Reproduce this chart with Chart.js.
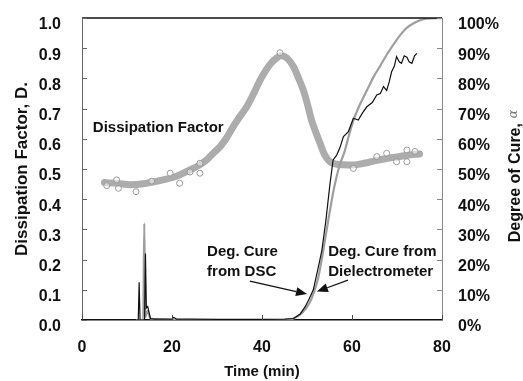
<!DOCTYPE html>
<html><head><meta charset="utf-8">
<style>html,body{margin:0;padding:0;background:#fff}</style>
<script src="https://cdn.jsdelivr.net/npm/chart.js@4/dist/chart.umd.min.js"></script>
</head><body>
<canvas id="c" width="523" height="381"></canvas>
<script>
const FONT = '"Liberation Sans", Arial, Helvetica, sans-serif';

// Dissipation factor (left axis)
const dfTime  = [5, 8, 10.7, 14, 18, 21, 24, 26, 27.7, 29, 30.7, 32, 33.6, 35, 36.6, 38, 39.6, 41, 42, 43.3, 44.2, 45.5, 47, 48, 49.2, 50, 51, 52, 52.9, 54, 55.1, 56.5, 58, 60.3, 63, 65, 67.7, 70, 72, 75];
const dfValue = [0.455, 0.452, 0.448, 0.452, 0.464, 0.476, 0.497, 0.512, 0.53, 0.55, 0.574, 0.6, 0.64, 0.672, 0.706, 0.745, 0.795, 0.83, 0.85, 0.868, 0.875, 0.868, 0.839, 0.805, 0.76, 0.72, 0.662, 0.62, 0.585, 0.545, 0.524, 0.516, 0.514, 0.513, 0.52, 0.527, 0.535, 0.54, 0.545, 0.55];
// scattered individual dissipation readings
const dfOutTime  = [5.5, 7.7, 8.1, 12, 15.5, 19.6, 21.7, 24, 26.2, 26.2, 44, 60.3, 65.5, 67.7, 69.9, 72.2, 72.2, 74];
const dfOutValue = [0.445, 0.464, 0.436, 0.425, 0.46, 0.486, 0.453, 0.49, 0.519, 0.486, 0.885, 0.502, 0.541, 0.552, 0.524, 0.563, 0.524, 0.558];

// Degree of cure (right axis, %)
const cureBlackTime  = [0, 12.5, 12.7, 12.9, 13.9, 14.1, 14.3, 14.6, 15.2, 16, 20, 20.4, 21, 24, 30, 40, 45, 47, 48.5, 49.6, 50.5, 51.4, 52.3, 53.3, 54.2, 55.1, 55.8, 56.6, 57.3, 58.1, 59.2, 59.6, 60.3, 61.4, 62.3, 63.3, 64.5, 65.5, 66.3, 67, 67.7, 68.3, 68.8, 69.4, 69.9, 70.5, 71, 71.6, 72.2, 72.7, 73.3, 73.9, 74.4];
const cureBlackValue = [0, 0, 12.5, 0, 0, 22, 4, 4.5, 0.5, 0.3, 0.3, 0.8, 0.3, 0.3, 0.2, 0.2, 0.3, 0.5, 2, 4.4, 7, 10, 16, 23, 33, 45, 53, 54.6, 57, 60.7, 62.4, 64, 66.8, 66.2, 68.5, 70.6, 72, 74.5, 75, 77.3, 76, 79, 82.2, 84, 87.2, 85.5, 85, 87.5, 87, 85.5, 85, 87.5, 88.3];
const cureGrayTime  = [12, 13.6, 13.85, 14.05, 14.6, 15.2, 16.5, 20, 45, 47, 49, 50.5, 51.5, 52.5, 53.5, 54.5, 55.3, 56.2, 57.2, 58.4, 59.3, 60.3, 61.8, 63.3, 64.8, 66.2, 68, 69.9, 72, 74, 76.5, 80];
const cureGrayValue = [0, 0, 32, 1, 3, 0.5, 0.3, 0, 0, 0.5, 2.5, 5.5, 9, 14, 22, 31, 38, 45, 51, 56, 61, 66, 71.5, 76, 80.5, 84, 88.5, 92.7, 96.5, 98.5, 99.8, 100];

const xTitle = 'Time (min)';
const yTitle = 'Dissipation Factor, D.';
const y2Title = 'Degree of Cure, ';
const y2Symbol = 'α';

const pts = (xs, ys) => xs.map((x, i) => ({x, y: ys[i]}));

const decor = {
  id: 'decor',
  afterDraw(chart) {
    const {ctx, chartArea: a, scales: {x, y, y2}} = chart;
    const line = (x1, y1, x2, y2_) => { ctx.beginPath(); ctx.moveTo(x1, y1); ctx.lineTo(x2, y2_); ctx.stroke(); };
    ctx.save();
    // top frame line
    ctx.strokeStyle = '#111'; ctx.lineWidth = 1.5;
    line(a.left, a.top, a.right, a.top);
    // inward tick marks
    ctx.lineWidth = 1; ctx.strokeStyle = '#666';
    y.ticks.forEach(t => { const p = Math.round(y.getPixelForValue(t.value)) + 0.5; line(a.left, p, a.left + 5, p); });
    ctx.strokeStyle = '#888';
    y2.ticks.forEach(t => { const p = Math.round(y2.getPixelForValue(t.value)) + 0.5; line(a.right - 5, p, a.right, p); });
    ctx.strokeStyle = '#444';
    x.ticks.forEach(t => { const p = Math.round(x.getPixelForValue(t.value)) + 0.5; line(p, a.bottom, p, a.bottom - 5); });

    // annotations
    ctx.fillStyle = '#111';
    ctx.textBaseline = 'middle'; ctx.textAlign = 'left';
    ctx.font = 'bold 15px ' + FONT;
    ctx.fillText('Dissipation Factor', x.getPixelForValue(2.4), y.getPixelForValue(0.636));
    ctx.fillText('Deg. Cure', x.getPixelForValue(27.8), y.getPixelForValue(0.226));
    ctx.fillText('from DSC', x.getPixelForValue(27.8), y.getPixelForValue(0.16));
    ctx.fillText('Deg. Cure from', x.getPixelForValue(54.7), y.getPixelForValue(0.226));
    ctx.fillText('Dielectrometer', x.getPixelForValue(54.7), y.getPixelForValue(0.16));

    const arrow = (t1, d1, t2, d2) => {
      const x1 = x.getPixelForValue(t1), y1 = y.getPixelForValue(d1);
      const x2 = x.getPixelForValue(t2), y2p = y.getPixelForValue(d2);
      const ang = Math.atan2(y2p - y1, x2 - x1);
      const L = 11, W = 4.5;
      const bx = x2 - L * Math.cos(ang), by = y2p - L * Math.sin(ang);
      ctx.strokeStyle = '#111'; ctx.lineWidth = 1.2;
      line(x1, y1, bx, by);
      ctx.beginPath();
      ctx.moveTo(x2, y2p);
      ctx.lineTo(bx + W * Math.sin(ang), by - W * Math.cos(ang));
      ctx.lineTo(bx - W * Math.sin(ang), by + W * Math.cos(ang));
      ctx.closePath(); ctx.fill();
    };
    arrow(37.3, 0.129, 50, 0.086);
    arrow(59.1, 0.132, 52.2, 0.094);

    // right axis title (reads bottom to top)
    ctx.save();
    ctx.translate(516, 176);
    ctx.rotate(-Math.PI / 2);
    ctx.font = 'bold 16px ' + FONT;
    const w1 = ctx.measureText(y2Title).width;
    ctx.font = 'italic 13px "DejaVu Serif", serif';
    const w2 = ctx.measureText(y2Symbol).width;
    const start = -(w1 + w2) / 2;
    ctx.textAlign = 'left'; ctx.textBaseline = 'middle';
    ctx.font = 'bold 16px ' + FONT; ctx.fillStyle = '#111';
    ctx.fillText(y2Title, start, 0);
    ctx.font = 'italic 13px "DejaVu Serif", serif'; ctx.fillStyle = '#777';
    ctx.fillText(y2Symbol, start + w1, -2);
    ctx.restore();
    ctx.restore();
  }
};

const fitV = w => s => { s.width = w; s.paddingTop = 0; s.paddingBottom = 0; };

new Chart(document.getElementById('c'), {
  type: 'line',
  data: {
    datasets: [
      { data: pts(cureBlackTime, cureBlackValue), yAxisID: 'y2', borderColor: '#111', borderWidth: 1.2, pointRadius: 0, tension: 0 },
      { data: pts(cureGrayTime, cureGrayValue), yAxisID: 'y2', borderColor: '#9e9e9e', borderWidth: 2.2, pointRadius: 0, cubicInterpolationMode: 'monotone' },
      { data: pts(dfOutTime, dfOutValue), yAxisID: 'y', showLine: false, pointRadius: 3, pointBorderWidth: 1, pointBorderColor: '#9a9a9a', pointBackgroundColor: 'rgba(255,255,255,0.5)' },
      { data: pts(dfTime, dfValue), yAxisID: 'y', borderColor: '#acacac', borderWidth: 7, pointRadius: 0, cubicInterpolationMode: 'monotone', borderCapStyle: 'round' }
    ]
  },
  options: {
    responsive: false,
    animation: false,
    events: [],
    layout: { padding: { top: 18, left: 0, right: 0, bottom: 0 } },
    plugins: { legend: { display: false }, tooltip: { enabled: false } },
    scales: {
      x: {
        type: 'linear', min: 0, max: 80,
        grid: { display: false, drawTicks: false },
        border: { display: true, color: '#111', width: 1.5 },
        ticks: { stepSize: 20, autoSkip: false, padding: 18, color: '#111', font: { family: FONT, size: 16, weight: 'bold' } },
        title: { display: true, text: xTitle, color: '#111', padding: { top: 0, bottom: 0 }, font: { family: FONT, size: 15, weight: 'bold' } },
        afterFit: s => { s.height = 61; s.paddingLeft = 0; s.paddingRight = 0; }
      },
      y: {
        position: 'left', min: 0, max: 1,
        grid: { display: false, drawTicks: false },
        border: { display: true, color: '#666', width: 1 },
        ticks: { stepSize: 0.1, autoSkip: false, padding: 21, labelOffset: 7, color: '#111', callback: v => Number(v).toFixed(1), font: { family: FONT, size: 16, weight: 'bold' } },
        title: { display: true, text: yTitle, color: '#111', padding: { top: 12, bottom: 0 }, font: { family: FONT, size: 17, weight: 'bold' } },
        afterFit: fitV(82)
      },
      y2: {
        position: 'right', min: 0, max: 100,
        grid: { display: false, drawTicks: false },
        border: { display: true, color: '#888', width: 1 },
        ticks: { stepSize: 10, autoSkip: false, padding: 16, labelOffset: 7, color: '#111', callback: v => v + '%', font: { family: FONT, size: 16, weight: 'bold' } },
        afterFit: fitV(81)
      }
    }
  },
  plugins: [decor]
});
</script>
</body></html>
